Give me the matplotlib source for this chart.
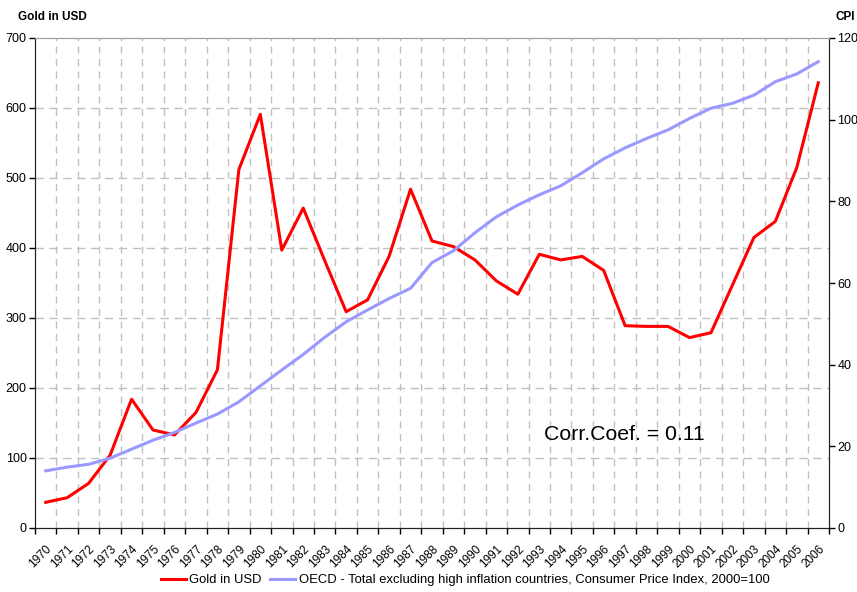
import matplotlib
matplotlib.use("Agg")
import matplotlib.pyplot as plt
import numpy as np

plt.rcParams['font.family'] = ['Liberation Sans', 'DejaVu Sans']

years = list(range(1970, 2007))

# gold price, USD per ounce (year end)
gold = [36.7, 43.3, 63.8, 104, 184, 140, 133, 165, 226, 512,
        591, 397, 457, 382, 309, 326, 388, 484, 410, 402,
        383, 353, 334, 391, 383, 388, 368, 289, 288, 288,
        272, 279, 347, 415, 438, 515, 636]

# OECD CPI, 2000=100
cpi = [14.0, 14.9, 15.6, 17.1, 19.3, 21.5, 23.4, 25.7, 27.9, 30.9,
       34.8, 38.7, 42.5, 46.7, 50.5, 53.4, 56.2, 58.7, 65.0, 67.9,
       72.3, 76.2, 79.1, 81.6, 83.8, 87.0, 90.4, 93.1, 95.4, 97.5,
       100.3, 102.8, 104.0, 106.0, 109.3, 111.2, 114.2]

gold_label = "Gold in USD"
cpi_label = "OECD - Total excluding high inflation countries, Consumer Price Index, 2000=100"

fig = plt.figure(figsize=(8.57, 5.92), dpi=100)
ax = fig.add_axes([35/857, 64/592, 794/857, 490/592])
ax2 = ax.twinx()

x = np.arange(len(years))
grid_col = '#c0c0c0'

# left axis
ax.set_xlim(-0.5, len(years) - 0.5)
ax.set_ylim(0, 700)
ax.set_yticks(range(0, 701, 100))
ax.set_xticks(x)
ax.set_xticklabels([str(y) for y in years], rotation=45, ha='right',
                   rotation_mode='anchor', fontsize=8.5)
ax.set_xticks(np.arange(-0.5, len(years), 1), minor=True)
ax.tick_params(axis='x', which='major', length=0, pad=11)
ax.tick_params(axis='x', which='minor', length=4, width=1, direction='out')
ax.tick_params(axis='y', length=4, width=1, labelsize=9, pad=2)

# dashed grid
for yv in range(100, 700, 100):
    ax.axhline(yv, color=grid_col, lw=1, ls=(0, (6, 4)), zorder=0)
for xv in np.arange(0.5, len(years) - 1, 1):
    ax.axvline(xv, color=grid_col, lw=1, ls=(0, (5, 4)), zorder=0)

l1, = ax.plot(x, gold, color='#ff0000', lw=2.2, label=gold_label)

ax2.set_ylim(0, 120)
ax2.set_yticks(range(0, 121, 20))
ax2.tick_params(axis='y', length=4, width=1, labelsize=9, pad=2)
l2, = ax2.plot(x, cpi, color='#9999ff', lw=2.2, label=cpi_label)

for a in (ax, ax2):
    a.spines['left'].set_color('#222222')
    a.spines['right'].set_color('#222222')
    a.spines['bottom'].set_color('#222222')
    a.spines['top'].set_color('#a0a0a0')

fig.text(18/857, 1 - 17/592, "Gold in USD", fontsize=8.5, fontweight='bold',
         va='center', ha='left')
fig.text(836/857, 1 - 17/592, "CPI", fontsize=8.5, fontweight='bold',
         va='center', ha='left')

ax2.text(23.2, 23, "Corr.Coef. = 0.11", fontsize=15.3, ha='left', va='center')

fig.legend(handles=[l1, l2], loc='center', bbox_to_anchor=(465/857, 1 - 580/592),
           ncol=2, frameon=False, fontsize=9.4, handlelength=1.9,
           handletextpad=0.3, columnspacing=0.6)

fig.savefig("out.png", dpi=100)
